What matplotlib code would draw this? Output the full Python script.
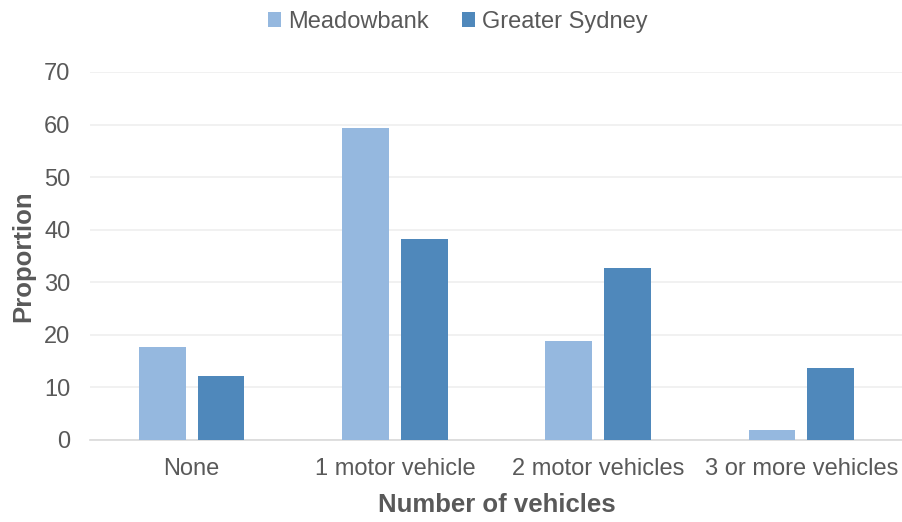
import matplotlib
matplotlib.use("Agg")
import matplotlib.pyplot as plt
import numpy as np

categories = ["None", "1 motor vehicle", "2 motor vehicles", "3 or more vehicles"]
meadowbank = [17.7, 59.4, 18.8, 1.9]
greater_sydney = [12.1, 38.3, 32.7, 13.7]
series_names = ["Meadowbank", "Greater Sydney"]
yticks = [0, 10, 20, 30, 40, 50, 60, 70]

plt.rcParams['font.family'] = ['Liberation Sans', 'DejaVu Sans']
text_color = "#595959"

fig = plt.figure(figsize=(9.03, 5.22), dpi=100)
ax = fig.add_axes([90/903, 1-440/522, 813/903, (440-72)/522])

x = np.arange(len(categories))
w = 0.23
off = 0.145
ax.bar(x - off, meadowbank, w, color="#95B8DF", label=series_names[0], zorder=3)
ax.bar(x + off, greater_sydney, w, color="#4F88BB", label=series_names[1], zorder=3)

ax.set_xlim(-0.5, len(categories) - 0.5)
ax.set_ylim(0, 70)
ax.set_yticks(yticks)
ax.set_xticks(x)
ax.set_xticklabels(categories)
ax.yaxis.grid(True, color="#EFEFEF", linewidth=1.2, zorder=0)
ax.set_axisbelow(True)
for s in ["top", "right", "left"]:
    ax.spines[s].set_visible(False)
ax.spines["bottom"].set_color("#D9D9D9")
ax.spines["bottom"].set_linewidth(1.2)
ax.tick_params(axis="both", length=0, labelsize=17, colors=text_color)
ax.tick_params(axis="x", pad=13)
ax.tick_params(axis="y", pad=14)
ax.set_xlabel("Number of vehicles", fontsize=18.5, fontweight="bold", color=text_color)
ax.set_ylabel("Proportion", fontsize=18.5, fontweight="bold", color=text_color)
ax.xaxis.set_label_coords(0.5, -0.145)
ax.yaxis.set_label_coords(-0.067, 0.5)

leg = fig.legend(loc="upper center", bbox_to_anchor=(0.507, 1.02), ncol=2, frameon=False,
                 fontsize=17, handlelength=0.55, handleheight=0.55, handletextpad=0.3,
                 columnspacing=1.4, labelcolor=text_color)

fig.savefig("out.png", dpi=100)
